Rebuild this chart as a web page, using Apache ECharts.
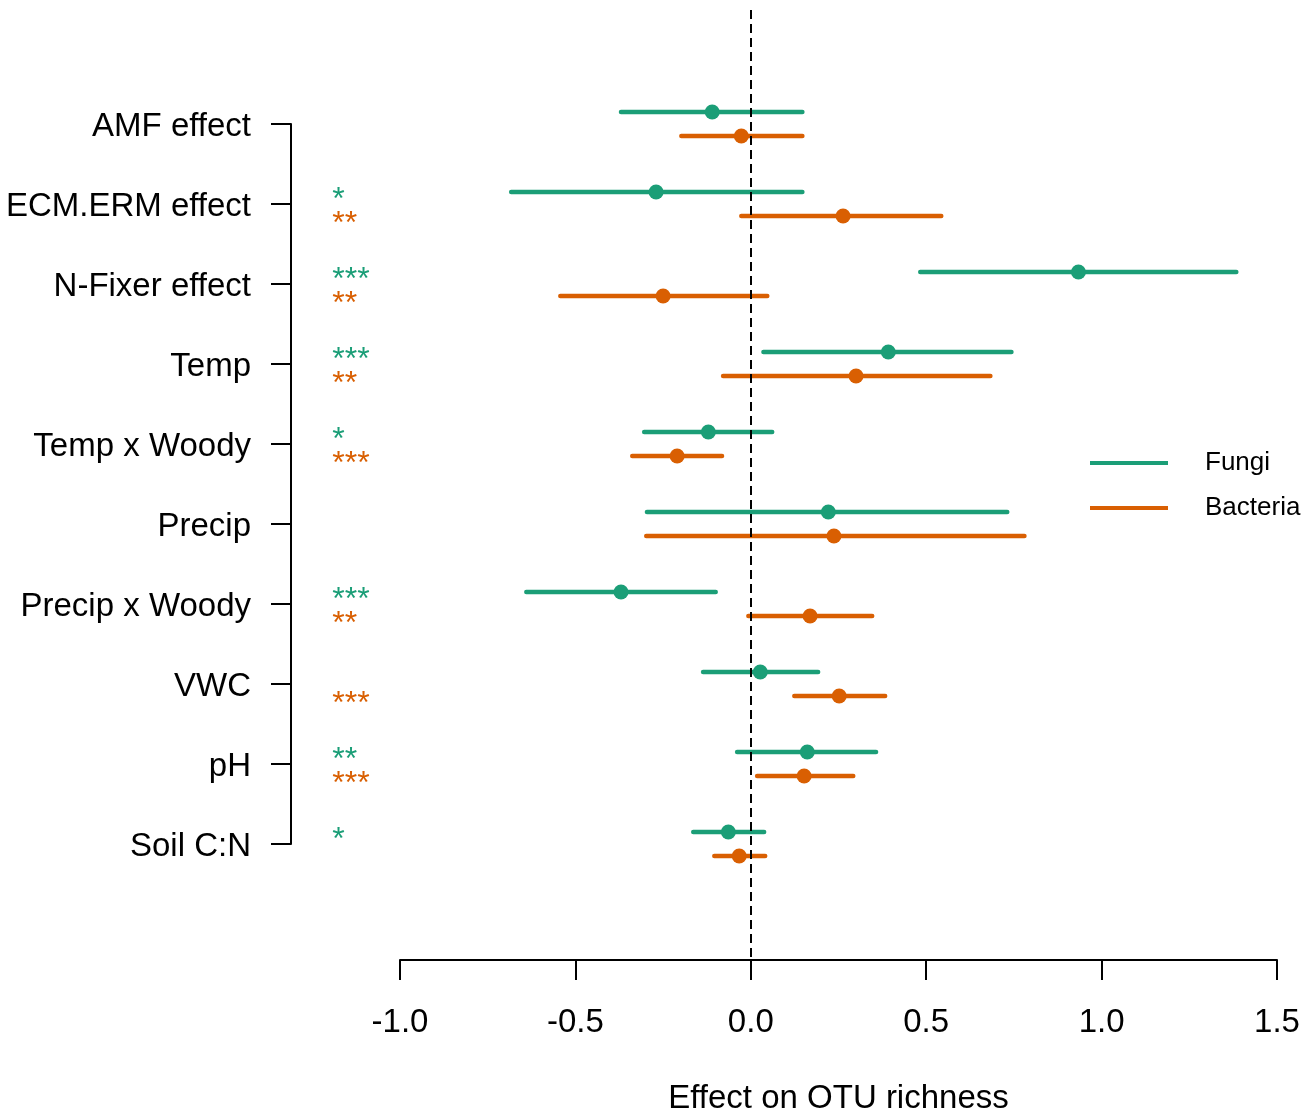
<!DOCTYPE html>
<html><head><meta charset="utf-8">
<script src="https://cdn.jsdelivr.net/npm/echarts@6/dist/echarts.min.js"></script>
<style>html,body{margin:0;padding:0;background:#fff}#c{width:1314px;height:1119px}</style>
</head><body><div id="c"></div>
<script>
const categories = ['AMF effect','ECM.ERM effect','N-Fixer effect','Temp','Temp x Woody','Precip','Precip x Woody','VWC','pH','Soil C:N'];
const fungiEst = [-0.11,-0.27,0.934,0.392,-0.121,0.221,-0.37,0.027,0.161,-0.064];
const fungiLo  = [-0.37,-0.683,0.483,0.036,-0.304,-0.296,-0.64,-0.136,-0.039,-0.164];
const fungiHi  = [0.147,0.147,1.384,0.743,0.061,0.731,-0.10,0.192,0.357,0.038];
const bactEst  = [-0.027,0.263,-0.25,0.30,-0.21,0.237,0.169,0.252,0.152,-0.033];
const bactLo   = [-0.198,-0.027,-0.543,-0.079,-0.338,-0.298,-0.007,0.124,0.018,-0.104];
const bactHi   = [0.147,0.543,0.047,0.683,-0.082,0.78,0.346,0.383,0.292,0.041];
const fungiSig = ['','*','***','***','*','','***','','**','*'];
const bactSig  = ['','**','**','**','***','','**','***','***',''];

const GREEN = '#1B9E77', ORANGE = '#D95F02';
const FONT = 'Liberation Sans, Arial, sans-serif';
const OFF = 0.15;      // vertical offset of each group within a row (row units)
const STAR_X = -1.193; // x position of the significance stars

const fungiBars = categories.map((c,i)=>[fungiLo[i], fungiHi[i], i-OFF]);
const bactBars  = categories.map((c,i)=>[bactLo[i], bactHi[i], i+OFF]);
const fungiPts  = categories.map((c,i)=>[fungiEst[i], i-OFF]);
const bactPts   = categories.map((c,i)=>[bactEst[i], i+OFF]);
const fungiStars = categories.map((c,i)=>[STAR_X, i-OFF]);
const bactStars  = categories.map((c,i)=>[STAR_X, i+OFF]);

function barRender(color){
  return function(params, api){
    const p1 = api.coord([api.value(0), api.value(2)]);
    const p2 = api.coord([api.value(1), api.value(2)]);
    return {type:'line', shape:{x1:p1[0],y1:p1[1],x2:p2[0],y2:p2[1]},
      style:{stroke:color, lineWidth:4.5, lineCap:'round'}};
  };
}
function starRender(color, sig){
  return function(params, api){
    const p = api.coord([api.value(0), api.value(1)]);
    return {type:'text', x:p[0], y:p[1]+8,
      style:{text:sig[params.dataIndex], fill:color, fontSize:32, fontFamily:FONT,
             align:'left', verticalAlign:'middle'}};
  };
}

const chart = echarts.init(document.getElementById('c'));
chart.setOption({
  animation:false,
  backgroundColor:'#fff',
  grid:[
    {left:291, top:124, height:720, width:10, containLabel:false, outerBoundsMode:'none'},
    {left:400, right:37, top:10, bottom:159, containLabel:false, outerBoundsMode:'none'}
  ],
  xAxis:[
    {gridIndex:0, type:'value', show:false, min:0, max:1},
    {gridIndex:1, type:'value', min:-1, max:1.5, interval:0.5,
     axisLine:{show:true, onZero:false, lineStyle:{color:'#000', width:2}},
     axisTick:{show:true, length:20, lineStyle:{color:'#000', width:2}},
     axisLabel:{margin:46, fontSize:33, color:'#000', fontFamily:FONT,
       formatter:v=>v.toFixed(1)},
     splitLine:{show:false},
     name:'Effect on OTU richness', nameLocation:'middle', nameGap:122,
     nameTextStyle:{fontSize:33, color:'#000', fontFamily:FONT}}
  ],
  yAxis:[
    {gridIndex:0, type:'category', data:categories, inverse:true, boundaryGap:false,
     axisLine:{show:true, lineStyle:{color:'#000', width:2}},
     axisTick:{show:true, length:20, alignWithLabel:true, lineStyle:{color:'#000', width:2}},
     axisLabel:{margin:40, fontSize:33, color:'#000', fontFamily:FONT, interval:0,
       formatter:v=>'{a|'+v+'}',
       rich:{a:{fontSize:33, color:'#000', fontFamily:FONT, padding:[6,0,0,0]}}},
     splitLine:{show:false}},
    {gridIndex:1, type:'value', inverse:true, min:-1.425, max:10.45, show:false}
  ],
  legend:{
    orient:'vertical', left:1085, top:445, itemGap:19,
    itemWidth:78, itemHeight:4,
    textStyle:{fontSize:26, color:'#000', fontFamily:FONT, padding:[0,0,0,32]},
    data:[{name:'Fungi', icon:'rect', itemStyle:{color:GREEN}},
          {name:'Bacteria', icon:'rect', itemStyle:{color:ORANGE}}]
  },
  series:[
    {name:'Fungi', type:'custom', xAxisIndex:1, yAxisIndex:1, data:fungiBars,
     itemStyle:{color:GREEN}, encode:{x:[0,1], y:2}, renderItem:barRender(GREEN), clip:false, z:3},
    {name:'Bacteria', type:'custom', xAxisIndex:1, yAxisIndex:1, data:bactBars,
     itemStyle:{color:ORANGE}, encode:{x:[0,1], y:2}, renderItem:barRender(ORANGE), clip:false, z:3},
    {name:'Fungi', type:'scatter', xAxisIndex:1, yAxisIndex:1, data:fungiPts,
     symbol:'circle', symbolSize:15, itemStyle:{color:GREEN, opacity:1}, z:4},
    {name:'Bacteria', type:'scatter', xAxisIndex:1, yAxisIndex:1, data:bactPts,
     symbol:'circle', symbolSize:15, itemStyle:{color:ORANGE, opacity:1}, z:4},
    {type:'custom', xAxisIndex:1, yAxisIndex:1, data:fungiStars, clip:false, silent:true,
     encode:{x:0, y:1}, renderItem:starRender(GREEN, fungiSig)},
    {type:'custom', xAxisIndex:1, yAxisIndex:1, data:bactStars, clip:false, silent:true,
     encode:{x:0, y:1}, renderItem:starRender(ORANGE, bactSig)},
    {type:'line', xAxisIndex:1, yAxisIndex:1, data:[], silent:true,
     markLine:{symbol:'none', silent:true, label:{show:false},
       lineStyle:{color:'#000', width:2, type:[9,5]},
       data:[{xAxis:0}]}}
  ]
});
</script>
</body></html>
